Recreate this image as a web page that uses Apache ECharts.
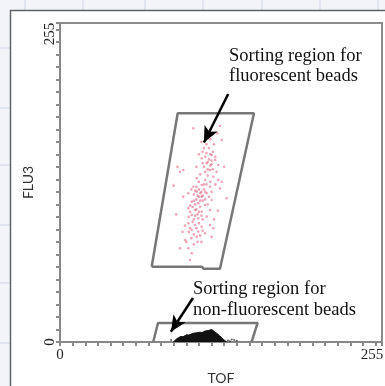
<!DOCTYPE html>
<html>
<head>
<meta charset="utf-8">
<script src="https://cdn.jsdelivr.net/npm/echarts@6/dist/echarts.min.js"></script>
<style>
html,body{margin:0;padding:0;background:#fff;}
#c{width:385px;height:386px;}
</style>
</head>
<body>
<div id="c"></div>
<script>
// ---- data (axis units 0..255) ----
var xAxisName = 'TOF';
var yAxisName = 'FLU3';
var axisMin = 0;
var axisMax = 255;
var xTickLabels = [0, 255];
var yTickLabels = [0, 255];

var fluorGate = [[72.6,60.2],[112.5,60.2],[113.6,58.5],[126.7,58.5],[153.6,182.8],[93.2,182.8],[72.6,60.2]];
var nonFluorGate = [[73.8,0],[77.6,15.2],[156.5,15.2],[151.7,0]];

var fluorArrow = [[133.2,198.2],[114.0,159.5]];
var nonFluorArrow = [[105.3,35.2],[87.8,8.2]];

var fluorLabel = ['Sorting region for', 'fluorescent beads'];
var nonFluorLabel = ['Sorting region for', 'non-fluorescent beads'];

var redDots = [
 [105.6,170.8],[126.7,172.7],[124.6,166.8],[128.1,161.5],[120.1,149.5],[122.8,145.5],[125.4,141.5],
 [112.2,146.9],[116.2,142.9],[118.8,137.5],[97.6,137.5],[95.0,136.1],[108.3,130.9],[114.8,129.5],
 [121.4,132.1],[125.4,129.5],[105.6,124.1],[112.2,125.5],[118.8,124.1],[126.7,122.9],[101.6,118.9],
 [108.3,120.2],[112.2,116.2],[116.2,118.9],[97.6,116.2],[120.1,113.5],[132.0,114.9],[104.3,112.2],
 [109.5,110.9],[114.8,109.5],[101.6,106.9],[106.9,105.5],[112.2,104.2],[118.8,105.5],[104.3,101.5],
 [109.5,98.9],[116.2,100.2],[101.6,94.9],[106.9,93.5],[112.2,92.2],[118.8,93.5],[104.3,89.5],
 [109.5,88.2],[114.8,86.9],[121.4,90.9],[108.3,84.2],[95.0,74.9],[101.6,74.9],[104.3,70.9],
 [103.0,65.6],[99.0,81.5],
 [115,148],[117,144],[119,150],[113,152],[118,155],[121,152],[114,140],[117,138],[120,142],[123,148],
 [116,158],[119,162],[112,160],[121,166],[115,168],[110,150],[108,140],[124,136],[111,134],[117,133],
 [110,116],[112,120],[108,124],[114,122],[106,118],[113,113],[116,126],[110,128],[104,122],[118,116],
 [107,110],[111,108],[115,114],[103,109],[109,102],[113,98],[106,98],[102,100],[117,110],[120,120],
 [90,125],[93,140],[100,80],[97,88],[125,105],[128,128],[130,140],[92,102],[100,60],[112,80],[106,78],[120,84],
 [118,146],[116,151],[120,145],[114,155],[122,158],[117,163],[119,141],[115,136],[121,138],[113,143],
 [111,119],[109,117],[113,117],[107,121],[115,120],[111,113],[108,114],[114,126],[106,113],[110,122],
 [105,108],[108,106],[110,104],[103,104],[107,101],[112,101],[105,96],[110,95],[103,91],[108,91],
 [106,86],[111,85],[104,83],[109,80],[102,88],[113,89],[99,93],[122,98],[123,126],[119,128]
];

var blobEnvelope = [[89.7,0],[91.1,1.0],[92.5,2.6],[94.0,3.6],[95.5,4.4],[97.5,4.2],[99.0,5.2],[100.3,5.8],
 [102.0,5.5],[103.5,6.4],[105.6,7.0],[107.0,6.6],[108.5,7.4],[110.9,7.8],[112.5,7.6],[113.5,8.6],
 [115.0,8.8],[116.2,9.6],[117.5,9.2],[118.8,10.4],[120.1,10.0],[121.2,9.0],[122.3,8.4],[124.1,7.0],
 [125.5,5.6],[126.5,4.8],[128.1,3.6],[129.5,2.0],[130.7,1.0],[132.0,0]];
var blackDots = [[133,1.2],[136,2.0],[140,1.0],[88,1.5],[134.5,0.6],[138,1.6]];

// ---- chart ----
var chart = echarts.init(document.getElementById('c'), null, {renderer:'canvas'});

var bgLinesX = [25,83,145,203,262,320,378];
var bgLinesY = [48,108,165,225,283,343];
var graphics = [{type:'rect', z:-20, shape:{x:0,y:0,width:385,height:386}, style:{fill:'#f3f4f7'}, silent:true}];
bgLinesX.forEach(function(x){ graphics.push({type:'line', z:-19, shape:{x1:x,y1:0,x2:x,y2:386}, style:{stroke:'#e0e5ef',lineWidth:2}, silent:true}); });
bgLinesY.forEach(function(y){ graphics.push({type:'line', z:-19, shape:{x1:0,y1:y,x2:385,y2:y}, style:{stroke:'#e0e5ef',lineWidth:2}, silent:true}); });
graphics.push({type:'rect', z:-18, shape:{x:10.5,y:10.5,width:400,height:400}, style:{fill:'#ffffff', stroke:'#606366', lineWidth:1.5}, silent:true});

var serif = '"Liberation Serif", "Times New Roman", serif';
function addLines(lines, left, baselines){
  lines.forEach(function(t, i){
    graphics.push({type:'text', z:50, left:left, top:baselines[i]-15,
      style:{text:t, fill:'#111', font:'18.5px ' + serif}});
  });
}
addLines(fluorLabel, 229, [61.7, 81.7]);
addLines(nonFluorLabel, 193, [295, 316]);

function tickFmt(labels){
  return function(v){
    if (v === labels[0]) return '{a|' + v + '}';
    if (v === labels[labels.length-1]) return '{b|' + v + '}';
    return '';
  };
}

var option = {
  animation:false,
  backgroundColor:'transparent',
  graphic: graphics,
  grid:{left:60, top:23, right:3, bottom:44, outerBoundsMode:'none', containLabel:false,
        show:true, backgroundColor:'#ffffff', borderColor:'#8c8c8c', borderWidth:2, z:0},
  xAxis:{
    type:'value', min:axisMin, max:axisMax, interval:10,
    name:xAxisName, nameLocation:'middle', nameGap:29,
    nameTextStyle:{fontFamily:'Lato', fontSize:14, color:'#333'},
    axisLine:{show:true, lineStyle:{color:'#888', width:2}},
    axisTick:{show:true, length:4, lineStyle:{color:'#8a8a8a', width:2}},
    splitLine:{show:false},
    axisLabel:{show:true, margin:6, formatter:tickFmt(xTickLabels),
      rich:{a:{fontFamily:serif, fontSize:15, color:'#222'},
            b:{fontFamily:serif, fontSize:15, color:'#222', padding:[0,20,0,0]}}}
  },
  yAxis:{
    type:'value', min:axisMin, max:axisMax, interval:10,
    name:yAxisName, nameLocation:'middle', nameGap:24, nameRotate:90,
    nameTextStyle:{fontFamily:'Lato', fontSize:14, color:'#333'},
    axisLine:{show:true, lineStyle:{color:'#888', width:2}},
    axisTick:{show:true, length:4, lineStyle:{color:'#8a8a8a', width:2}},
    splitLine:{show:false},
    axisLabel:{show:true, rotate:90, margin:2, formatter:tickFmt(yTickLabels),
      rich:{a:{fontFamily:serif, fontSize:15, color:'#222'},
            b:{fontFamily:serif, fontSize:15, color:'#222', padding:[0,22,0,0]}}}
  },
  series:[
    {type:'scatter', data:redDots, symbolSize:2.6, z:3,
     itemStyle:{color:'rgba(222,70,100,0.6)'}, silent:true},
    {type:'line', data:blobEnvelope, symbol:'none', smooth:false, z:3,
     lineStyle:{color:'#111', width:1}, areaStyle:{color:'#111', opacity:1}, silent:true},
    {type:'scatter', data:blackDots, symbolSize:2, z:3, itemStyle:{color:'#333'}, silent:true},
    {type:'line', data:fluorGate, symbol:'none', z:4,
     lineStyle:{color:'#777', width:2.5}, silent:true,
     markLine:{silent:true, symbol:['none','arrow'], symbolSize:[11,16], label:{show:false},
       lineStyle:{color:'#000', width:2.5, type:'solid'},
       data:[[{coord:fluorArrow[0]},{coord:fluorArrow[1]}],[{coord:nonFluorArrow[0]},{coord:nonFluorArrow[1]}]]}},
    {type:'line', data:nonFluorGate, symbol:'none', z:4,
     lineStyle:{color:'#777', width:2.5}, silent:true}
  ]
};
chart.setOption(option);
</script>
</body>
</html>
